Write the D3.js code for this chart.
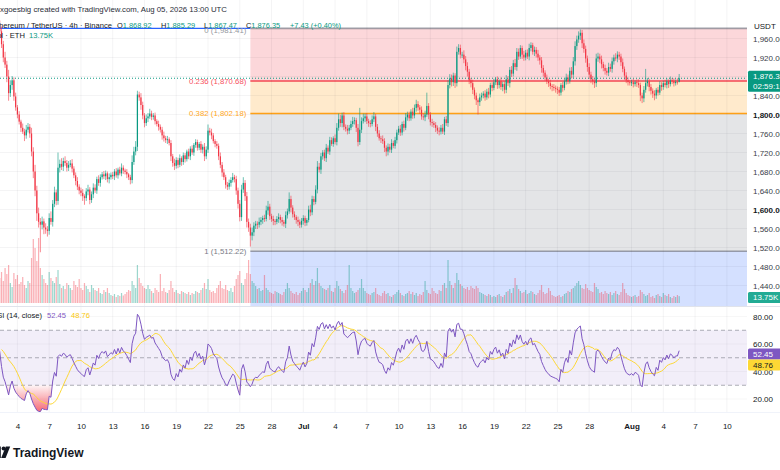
<!DOCTYPE html>
<html>
<head>
<meta charset="utf-8">
<script src="https://cdn.jsdelivr.net/npm/d3@7"></script>
<style>
  html, body { margin: 0; padding: 0; background: #fff; }
  svg { display: block; font-family: "Liberation Sans", Arial, sans-serif; }
</style>
</head>
<body>
<svg id="chart" width="780" height="470"></svg>
<script>
// ETH/USDT 4h candles, first candle opens 2026-05-29 00:00 UTC, one line per day
const firstOpen = 1945;
const closes = [
  1950, 1962, 1955, 1968, 1960, 1972,
  1966, 1958, 1970, 1962, 1955, 1964,
  1958, 1970, 1964, 1976, 1968, 1962,
  1956, 1968, 1962, 1974, 1980, 1986,
  1994, 1990, 1975, 1948, 1920, 1905,
  1880, 1845, 1862, 1872, 1838, 1815,
  1800, 1785, 1772, 1764, 1756, 1768,
  1774, 1760, 1722, 1680, 1640, 1592,
  1574, 1568, 1575, 1562, 1558, 1555,
  1582, 1574, 1612, 1636, 1618, 1688,
  1696, 1690, 1702, 1698, 1688, 1694,
  1697, 1686, 1672, 1660, 1648, 1640,
  1635, 1628, 1624, 1638, 1642, 1620,
  1632, 1646, 1640, 1664, 1656, 1668,
  1674, 1670, 1676, 1664, 1668, 1673,
  1670, 1680, 1672, 1684, 1676, 1688,
  1682, 1679, 1674, 1668, 1662, 1700,
  1722, 1732, 1842, 1836, 1820, 1798,
  1782, 1792, 1796, 1802, 1795, 1798,
  1786, 1780, 1774, 1768, 1756, 1750,
  1746, 1748, 1740, 1712, 1698, 1692,
  1704, 1694, 1708, 1700, 1714, 1706,
  1722, 1712, 1728, 1720, 1736, 1742,
  1730, 1738, 1726, 1732, 1712, 1726,
  1766, 1762, 1756, 1744, 1738, 1734,
  1712, 1694, 1678, 1668, 1652, 1648,
  1656, 1662, 1668, 1664, 1640, 1612,
  1584, 1642, 1656, 1628, 1574, 1562,
  1545, 1552, 1566, 1570, 1568, 1574,
  1578, 1582, 1580, 1598, 1606, 1586,
  1580, 1576, 1574, 1580, 1584, 1578,
  1574, 1570, 1588, 1596, 1622, 1604,
  1590, 1584, 1578, 1574, 1568, 1576,
  1582, 1572, 1578, 1600, 1594, 1622,
  1616, 1642, 1690, 1684, 1712, 1720,
  1708, 1730, 1722, 1746, 1738, 1750,
  1742, 1772, 1790, 1782, 1798, 1774,
  1770, 1766, 1772, 1780, 1786, 1788,
  1772, 1742, 1768, 1786, 1792, 1796,
  1786, 1782, 1780, 1790, 1796, 1774,
  1760, 1750, 1748, 1744, 1730, 1722,
  1732, 1726, 1740, 1734, 1746, 1762,
  1770, 1762, 1780, 1772, 1794, 1800,
  1792, 1806, 1798, 1814, 1822, 1815,
  1810, 1796, 1794, 1800, 1818, 1800,
  1784, 1782, 1778, 1772, 1766, 1764,
  1772, 1764, 1790, 1782, 1862, 1876,
  1868, 1882, 1866, 1932, 1940, 1926,
  1926, 1916, 1902, 1890, 1872, 1866,
  1852, 1840, 1830, 1826, 1836, 1840,
  1844, 1836, 1848, 1842, 1862, 1856,
  1868, 1874, 1862, 1870, 1858, 1864,
  1852, 1874, 1866, 1894, 1886, 1908,
  1900, 1932, 1922, 1940, 1926, 1920,
  1930, 1922, 1940, 1946, 1932, 1936,
  1928, 1920, 1914, 1898, 1888, 1878,
  1870, 1866, 1860, 1858, 1856, 1854,
  1852, 1846, 1862, 1856, 1870, 1878,
  1870, 1892, 1884, 1912, 1944, 1958,
  1966, 1972, 1950, 1938, 1918, 1900,
  1884, 1874, 1870, 1866, 1918, 1922,
  1916, 1906, 1898, 1892, 1888, 1900,
  1896, 1912, 1920, 1918, 1926, 1922,
  1910, 1896, 1882, 1872, 1868, 1866,
  1868, 1864, 1868, 1866, 1862, 1840,
  1834, 1852, 1866, 1870, 1858, 1850,
  1844, 1840, 1852, 1846, 1862, 1858,
  1866, 1862, 1870, 1864, 1872, 1870,
  1866, 1869, 1868.92, 1876.35
];
// upper wick above the body, lower wick below the body (USDT)
const wickHi = [
  6,4,8,5,7,3, 5,9,4,6,3,7, 4,8,6,5,9,4, 7,5,6,8,12,10,
  9,6,8,10,7,12, 8,14,10,9,6,8, 5,7,4,9,6,10, 8,6,12,9,14,10,
  12,8,10,6,9,7, 10,14,8,12,6,32, 9,12,7,10,6,8, 7,9,5,6,8,5,
  6,8,4,7,10,5, 6,9,7,5,8,6, 5,7,6,4,8,5, 6,5,7,4,6,9,
  5,4,6,3,5,14, 10,12,8,6,9,7, 5,8,7,10,6,5, 6,4,7,5,6,8,
  5,7,4,6,5,9, 6,5,8,4,6,5, 4,6,5,7,4,6, 5,4,6,5,8,7,
  13,6,8,5,4,6, 5,8,6,7,5,6, 7,6,9,5,7,6, 8,10,12,6,9,7,
  8,10,7,6,5,9, 6,5,7,10,12,6, 5,7,4,6,8,5, 6,4,8,6,14,7,
  5,6,4,7,5,6, 6,5,4,8,10,7, 6,9,12,8,7,5, 6,8,5,7,6,4,
  8,10,12,9,6,7, 5,8,6,7,9,6, 5,8,46,8,10,6, 7,5,6,8,9,5,
  6,7,5,8,6,5, 7,6,8,5,7,6, 6,8,5,7,9,6, 6,5,8,7,9,6,
  5,7,6,8,28,6, 5,7,4,6,5,7, 6,8,5,7,10,9, 8,6,5,11,8,7,
  6,9,7,8,6,5, 7,5,6,4,8,6, 5,7,6,8,5,6, 7,5,6,4,8,5,
  6,9,7,6,8,7, 9,8,7,6,5,8, 6,7,9,6,5,7, 6,8,5,7,6,5,
  6,5,7,4,6,5, 5,6,4,7,5,8, 6,7,8,9,10,8, 9,7,6,8,7,6,
  8,6,7,5,10,8, 6,8,5,7,6,9, 7,8,6,9,7,6, 6,8,5,7,6,4,
  5,7,4,6,8,5, 6,8,30,7,5,6, 5,7,4,6,8,6, 5,7,6,4,8,5,
  6,5,7,8.94
];
const wickLo = [
  5,7,4,6,5,8, 6,4,7,5,8,6, 7,5,4,8,6,9, 6,8,5,7,4,6,
  5,7,9,8,10,7, 12,16,8,10,9,7, 8,6,9,5,12,7, 6,9,10,14,12,16,
  12,58,10,14,9,12, 8,6,10,7,9,8, 10,7,9,6,8,7, 5,8,6,9,7,8,
  7,10,14,6,8,9, 6,8,5,7,6,8, 5,6,8,7,9,5, 6,8,5,7,4,6,
  7,5,8,6,9,7, 6,8,9,7,10,8, 9,6,8,5,7,6, 7,5,8,6,9,7,
  6,8,5,10,8,9, 6,7,5,8,6,7, 5,6,8,5,7,6, 6,5,7,8,10,6,
  7,6,8,5,7,6, 8,7,9,6,8,7, 6,8,5,7,9,10, 9,8,7,10,12,9,
  23,10,8,7,9,6, 7,8,6,5,9,8, 6,9,7,5,8,7, 8,6,9,7,5,10,
  7,6,8,9,7,6, 8,7,6,5,8,6, 7,5,8,6,9,7, 6,8,5,7,4,6,
  5,7,6,8,9,7, 6,8,7,5,6,7, 9,9,6,7,5,8, 6,8,7,5,6,9,
  7,5,8,6,9,10, 8,6,7,5,6,7, 5,7,6,8,5,7, 6,5,7,6,8,7,
  9,7,6,8,5,10, 7,8,6,9,7,8, 6,5,7,6,8,7, 9,8,10,7,6,8,
  7,8,9,10,8,9, 9,8,10,26,8,7, 6,7,5,8,6,7, 5,6,8,7,6,9,
  8,7,6,9,7,6, 6,8,7,5,9,7, 6,5,8,7,6,9, 8,7,9,10,8,7,
  6,8,7,9,6,8, 9,7,6,8,5,7, 6,5,8,7,9,8, 7,9,10,8,9,10,
  9,8,7,10,8,7, 8,9,7,8,6,7, 6,8,7,5,8,7, 8,7,9,6,7,5,
  6,7,5,8,6,12, 10,8,6,7,9,8, 9,10,7,6,5,8, 6,5,7,8,5,6,
  7,5,6,1.45
];
// volume, thousands of ETH
const volumes = [
  34,30,28,36,32,30, 26,30,28,34,30,36, 32,28,30,40,36,44, 40,34,38,30,36,42,
  38,44,50,62,44,70, 58,76,40,32,60,48, 56,38,42,52,36,30, 44,40,90,128,110,84,
  130,70,56,48,40,36, 62,50,44,40,52,66, 38,30,34,28,40,36, 30,26,44,36,32,48,
  30,26,40,34,28,22, 36,30,26,24,30,20, 18,26,22,30,20,16, 14,18,12,16,14,20,
  15,18,22,26,24,44, 36,30,76,50,40,34, 30,28,36,28,24,20, 30,26,22,58,24,30,
  22,20,26,44,30,22, 26,20,18,24,22,20, 18,22,16,20,18,24, 22,20,26,30,40,28,
  48,26,22,24,20,30, 36,44,30,28,36,26, 24,30,22,34,48,56, 64,40,36,48,60,86,
  58,44,40,34,28,30, 24,26,56,30,26,22, 20,18,24,22,20,18, 16,22,28,40,30,24,
  20,18,22,16,20,24, 30,26,22,30,40,48, 36,44,70,40,34,30, 28,26,30,36,24,22,
  30,44,34,28,24,20, 26,36,76,30,24,20, 22,26,30,48,30,24, 20,18,16,20,22,30,
  18,16,14,20,24,18, 20,14,12,16,18,22, 26,20,16,14,18,20, 24,18,22,16,20,14,
  18,16,22,44,26,20, 18,30,24,20,18,26, 24,36,40,30,86,44, 36,30,40,60,46,38,
  34,30,28,32,26,34, 30,28,34,30,22,20, 18,16,14,18,16,12, 14,12,16,18,14,12,
  16,22,24,28,20,30, 50,36,28,24,20,22, 26,18,20,24,22,18, 16,20,26,36,22,18,
  20,30,24,16,14,12, 14,16,12,14,18,20, 24,22,28,30,34,40, 44,36,30,28,38,30,
  26,24,22,40,32,28, 20,22,18,24,20,18, 22,16,20,24,18,16, 22,40,28,20,16,14,
  12,14,16,12,14,26, 22,18,14,16,20,12, 14,10,16,18,14,12, 20,16,14,18,12,10,
  14,12,16,13.75
];

const priceTicks = [1440, 1480, 1520, 1560, 1600, 1640, 1680, 1720, 1760, 1800, 1840, 1880, 1920, 1960];
const boldPriceTicks = [1600, 1800];
const rsiTicks = [20, 40, 60, 80];
const timeTicks = ["2026-06-04", "2026-06-07", "2026-06-10", "2026-06-13", "2026-06-16", "2026-06-19",
  "2026-06-22", "2026-06-25", "2026-06-28", "2026-07-01", "2026-07-04", "2026-07-07", "2026-07-10",
  "2026-07-13", "2026-07-16", "2026-07-19", "2026-07-22", "2026-07-25", "2026-07-28", "2026-08-01",
  "2026-08-04", "2026-08-07", "2026-08-10"];

const fibLevels = [0, 0.236, 0.382, 1, 1.618];
const fibPrices = [1981.41, 1870.68, 1802.18, 1512.22, 1222.25];
const fibColors = ["#787b86", "#f23645", "#ff9800", "#787b86", "#2962ff"];
const fibLabelColors = ["#9598a1", "#f7525f", "#ffa726", "#787b86", "#2962ff"];
const fibStart = "2026-06-26";

const lastPrice = 1876.35;
const lastVolume = "13.75K";
const rsiLast = 52.45, rsiMaLast = 48.76;

// ---------------------------------------------------------------
const plotRight = 747;
const svg = d3.select("#chart");
const step4h = 4 * 3600 * 1000;
const t0 = Date.UTC(2026, 4, 29, 0);
const fmt2 = d3.format(",.2f");

const candles = closes.map(function(c, i) {
    const o = i ? closes[i - 1] : firstOpen;
    return { t: new Date(t0 + i * step4h), o: o, c: c,
             h: Math.max(o, c) + wickHi[i], l: Math.min(o, c) - wickLo[i], v: volumes[i] };
});

const x = d3.scaleUtc()
    .domain([new Date(Date.UTC(2026, 6, 1)), new Date(Date.UTC(2026, 7, 4))])
    .range([303.3, 663.3]);
const y = d3.scaleLinear().domain([1440, 1960]).range([285.5, 38.5]);
const yv = d3.scaleLinear().domain([0, 135]).range([303, 235.5]);
const yr = d3.scaleLinear().domain([0, 100]).range([426.5, 289]);
const barW = (x(new Date(t0 + step4h)) - x(new Date(t0))) * 0.68;

const defs = svg.append("defs");
defs.append("clipPath").attr("id", "clipMain").append("rect")
    .attr("x", 0).attr("y", 0).attr("width", plotRight).attr("height", 306);
defs.append("clipPath").attr("id", "clipRsi").append("rect")
    .attr("x", 0).attr("y", 307).attr("width", plotRight).attr("height", 105);

// fibonacci zones
const main = svg.append("g").attr("clip-path", "url(#clipMain)");
const fx = x(new Date(fibStart));
for (let k = 0; k < fibLevels.length - 1; k++) {
    main.append("rect")
        .attr("x", fx).attr("width", plotRight - fx)
        .attr("y", y(fibPrices[k])).attr("height", y(fibPrices[k + 1]) - y(fibPrices[k]))
        .attr("fill", fibColors[k + 1]).attr("fill-opacity", 0.2);
}

// grid
const tickDates = timeTicks.map(function(s) { return new Date(s + "T00:00:00Z"); });
svg.append("g").selectAll("line").data(tickDates).enter().append("line")
    .attr("x1", function(d) { return x(d); }).attr("x2", function(d) { return x(d); })
    .attr("y1", 0).attr("y2", 412)
    .attr("stroke", "#2a2e39").attr("stroke-opacity", 0.05);
main.append("g").selectAll("line").data(priceTicks).enter().append("line")
    .attr("x1", 0).attr("x2", plotRight)
    .attr("y1", function(d) { return y(d); }).attr("y2", function(d) { return y(d); })
    .attr("stroke", "#2a2e39").attr("stroke-opacity", 0.05);

// volume
main.append("g").selectAll("rect").data(candles).enter().append("rect")
    .attr("x", function(d) { return x(d.t) - barW / 2; })
    .attr("width", barW)
    .attr("y", function(d) { return yv(d.v); })
    .attr("height", function(d) { return yv(0) - yv(d.v); })
    .attr("fill", function(d) { return d.c >= d.o ? "#089981" : "#f23645"; })
    .attr("fill-opacity", 0.4);

// fib lines
fibLevels.forEach(function(lv, k) {
    main.append("line")
        .attr("x1", fx).attr("x2", plotRight)
        .attr("y1", y(fibPrices[k])).attr("y2", y(fibPrices[k]))
        .attr("stroke", fibColors[k]).attr("stroke-width", 1.6)
        .attr("stroke-opacity", k === 0 || k === 3 ? 0.7 : 0.9);
});
main.append("line")
    .attr("x1", 0).attr("x2", fx)
    .attr("y1", y(fibPrices[0])).attr("y2", y(fibPrices[0]))
    .attr("stroke", "#2962ff").attr("stroke-width", 1.4);

// candles
const cg = main.append("g").selectAll("g").data(candles).enter().append("g");
cg.append("line")
    .attr("x1", function(d) { return x(d.t); }).attr("x2", function(d) { return x(d.t); })
    .attr("y1", function(d) { return y(d.h); }).attr("y2", function(d) { return y(d.l); })
    .attr("stroke", function(d) { return d.c >= d.o ? "#089981" : "#f23645"; })
    .attr("stroke-width", 0.6);
cg.append("rect")
    .attr("x", function(d) { return x(d.t) - barW / 2; })
    .attr("width", barW)
    .attr("y", function(d) { return y(Math.max(d.o, d.c)); })
    .attr("height", function(d) { return Math.max(0.8, Math.abs(y(d.o) - y(d.c))); })
    .attr("fill", function(d) { return d.c >= d.o ? "#089981" : "#f23645"; });

// last price dotted line
main.append("line")
    .attr("x1", 0).attr("x2", plotRight)
    .attr("y1", y(lastPrice)).attr("y2", y(lastPrice))
    .attr("stroke", "#089981").attr("stroke-width", 1).attr("stroke-dasharray", "1,2");

fibLevels.slice(0, 4).forEach(function(lv, k) {
    svg.append("text")
        .attr("x", fx - 4).attr("y", y(fibPrices[k]) + (k === 0 ? 1.5 : 0)).attr("dy", "0.35em")
        .attr("text-anchor", "end").attr("font-size", 7.8)
        .attr("fill", fibLabelColors[k])
        .text(lv + " (" + fmt2(fibPrices[k]) + ")");
});

// ---- RSI
function rma_rsi(cl, len) {
    const out = new Array(cl.length).fill(null);
    let au = 0, ad = 0;
    for (let i = 1; i < cl.length; i++) {
        const ch = cl[i] - cl[i - 1];
        const u = Math.max(ch, 0), dn = Math.max(-ch, 0);
        if (i <= len) { au += u / len; ad += dn / len; }
        else { au = (au * (len - 1) + u) / len; ad = (ad * (len - 1) + dn) / len; }
        if (i >= len) out[i] = ad === 0 ? 100 : 100 - 100 / (1 + au / ad);
    }
    return out;
}
const rsi = rma_rsi(closes, 14);
const rsiMa = rsi.map(function(r, i) {
    if (i < 27) return null;
    return d3.mean(rsi.slice(i - 13, i + 1));
});
const rsiData = candles.map(function(d, i) { return { t: d.t, r: rsi[i], m: rsiMa[i] }; });

const rg = svg.append("g").attr("clip-path", "url(#clipRsi)");
rg.append("rect").attr("x", 0).attr("width", plotRight)
    .attr("y", yr(70)).attr("height", yr(30) - yr(70))
    .attr("fill", "#7e57c2").attr("fill-opacity", 0.1);
rg.append("g").selectAll("line").data(rsiTicks).enter().append("line")
    .attr("x1", 0).attr("x2", plotRight)
    .attr("y1", function(d) { return yr(d); }).attr("y2", function(d) { return yr(d); })
    .attr("stroke", "#2a2e39").attr("stroke-opacity", 0.04);
rg.append("g").selectAll("line").data([70, 50, 30]).enter().append("line")
    .attr("x1", 0).attr("x2", plotRight)
    .attr("y1", function(d) { return yr(d); }).attr("y2", function(d) { return yr(d); })
    .attr("stroke", "#787b86").attr("stroke-opacity", 0.6).attr("stroke-dasharray", "4,3");

const gOs = defs.append("linearGradient").attr("id", "gOs").attr("gradientUnits", "userSpaceOnUse")
    .attr("x1", 0).attr("x2", 0).attr("y1", yr(30)).attr("y2", yr(12));
gOs.append("stop").attr("offset", 0).attr("stop-color", "#f23645").attr("stop-opacity", 0.05);
gOs.append("stop").attr("offset", 1).attr("stop-color", "#f23645").attr("stop-opacity", 0.7);

const defR = function(d) { return d.r !== null; };
rg.append("path").datum(rsiData)
    .attr("fill", "url(#gOs)")
    .attr("d", d3.area().defined(defR).x(function(d) { return x(d.t); })
        .y0(yr(30)).y1(function(d) { return yr(Math.min(d.r, 30)); }));
rg.append("path").datum(rsiData)
    .attr("fill", "none").attr("stroke", "#fdd835").attr("stroke-width", 1)
    .attr("d", d3.line().defined(function(d) { return d.m !== null; })
        .x(function(d) { return x(d.t); }).y(function(d) { return yr(d.m); }));
rg.append("path").datum(rsiData)
    .attr("fill", "none").attr("stroke", "#7e57c2").attr("stroke-width", 1)
    .attr("d", d3.line().defined(defR)
        .x(function(d) { return x(d.t); }).y(function(d) { return yr(d.r); }));

// pane separators
svg.append("line").attr("x1", 0).attr("x2", 780).attr("y1", 306.5).attr("y2", 306.5)
    .attr("stroke", "#e0e3eb");
svg.append("line").attr("x1", 0).attr("x2", 780).attr("y1", 412.5).attr("y2", 412.5)
    .attr("stroke", "#f0f3fa");

// ---- axes
function styleAxis(g) {
    g.select(".domain").remove();
    g.selectAll("text").attr("fill", "#131722").attr("font-size", 8)
        .attr("font-family", "\"Liberation Sans\", Arial, sans-serif");
}
const yAxis = svg.append("g").attr("transform", "translate(" + plotRight + ",0)")
    .call(d3.axisRight(y).tickValues(priceTicks).tickSize(0).tickPadding(6).tickFormat(fmt2))
    .call(styleAxis);
yAxis.selectAll(".tick text")
    .attr("font-weight", function(d) { return boldPriceTicks.indexOf(d) >= 0 ? "bold" : null; })
    .attr("fill", function(d) { return boldPriceTicks.indexOf(d) >= 0 ? "#131722" : "#3a3e49"; });

svg.append("g").attr("transform", "translate(" + plotRight + ",0)")
    .call(d3.axisRight(yr).tickValues(rsiTicks).tickSize(0).tickPadding(6).tickFormat(d3.format(".2f")))
    .call(styleAxis);

const monthFmt = d3.utcFormat("%b");
const xAxis = svg.append("g").attr("transform", "translate(0,423)")
    .call(d3.axisBottom(x).tickValues(tickDates).tickSize(0).tickPadding(0)
        .tickFormat(function(d) { return d.getUTCDate() === 1 ? monthFmt(d) : d.getUTCDate(); }))
    .call(styleAxis);
xAxis.selectAll(".tick text")
    .attr("font-weight", function(d) { return d.getUTCDate() === 1 ? "bold" : null; });

svg.append("text").attr("x", 754).attr("y", 26).attr("dy", "0.35em")
    .attr("font-size", 8).attr("fill", "#131722").text("USDT");

// value boxes on the scales
function valueBox(yc, bg, fg, lines) {
    const h = 10 * lines.length + 1;
    svg.append("rect").attr("x", plotRight + 1).attr("y", yc - h / 2)
        .attr("width", 780 - plotRight).attr("height", h).attr("rx", 1.5).attr("fill", bg);
    lines.forEach(function(s, k) {
        svg.append("text").attr("x", plotRight + 6).attr("y", yc - h / 2 + 5.5 + k * 10)
            .attr("dy", "0.35em").attr("font-size", 8).attr("fill", fg).text(s);
    });
}
valueBox(y(lastPrice) + 3, "#089981", "#ffffff", [fmt2(lastPrice), "02:59:19"]);
valueBox(297.5, "#22ab94", "#ffffff", [lastVolume]);
valueBox(yr(rsiLast) - 0.5, "#7e57c2", "#ffffff", [rsiLast.toFixed(2)]);
valueBox(yr(rsiLast) + 10.5, "#fdd835", "#131722", [rsiMaLast.toFixed(2)]);

// ---- legends
svg.append("text").attr("x", 0).attr("y", 12).attr("font-size", 7.8).attr("fill", "#2a2e39")
    .text("xgoesbig created with TradingView.com, Aug 05, 2026 13:00 UTC");
svg.append("text").attr("x", 112).attr("y", 28).attr("font-size", 7.6).attr("fill", "#131722")
    .attr("text-anchor", "end").text("Ethereum / TetherUS · 4h · Binance");
const ohlc = [["O", "1,868.92", 117], ["H", "1,885.29", 161], ["L", "1,867.47", 204], ["C", "1,876.35", 246]];
ohlc.forEach(function(p) {
    const t = svg.append("text").attr("x", p[2]).attr("y", 28).attr("font-size", 7.4);
    t.append("tspan").attr("fill", "#131722").text(p[0]);
    t.append("tspan").attr("fill", "#089981").text(p[1]);
});
svg.append("text").attr("x", 290).attr("y", 28).attr("font-size", 7.4).attr("fill", "#089981")
    .text("+7.43 (+0.40%)");
svg.append("text").attr("x", 25).attr("y", 38).attr("font-size", 7.6).attr("fill", "#131722")
    .attr("text-anchor", "end").text("Vol · ETH");
svg.append("text").attr("x", 29).attr("y", 38).attr("font-size", 7.6).attr("fill", "#089981")
    .text(lastVolume);

svg.append("text").attr("x", 42).attr("y", 318).attr("font-size", 7.6).attr("fill", "#131722")
    .attr("text-anchor", "end").text("RSI (14, close)");
svg.append("text").attr("x", 47).attr("y", 318).attr("font-size", 7.6).attr("fill", "#7e57c2")
    .text(rsiLast.toFixed(2));
svg.append("text").attr("x", 71).attr("y", 318).attr("font-size", 7.6).attr("fill", "#f9c70c")
    .text(rsiMaLast.toFixed(2));

// TradingView logo
const logo = svg.append("g").attr("fill", "#131722");
logo.append("path").attr("d", "M-8,446.5H0.8V458H-3.4V450.6H-8Z");
logo.append("circle").attr("cx", 3.6).attr("cy", 448.6).attr("r", 2);
logo.append("path").attr("d", "M1.2,458L5.8,446.5H10.2L5.6,458Z");
logo.append("text").attr("x", 13).attr("y", 457).attr("font-size", 12).attr("font-weight", "bold")
    .text("TradingView");
</script>
</body>
</html>
